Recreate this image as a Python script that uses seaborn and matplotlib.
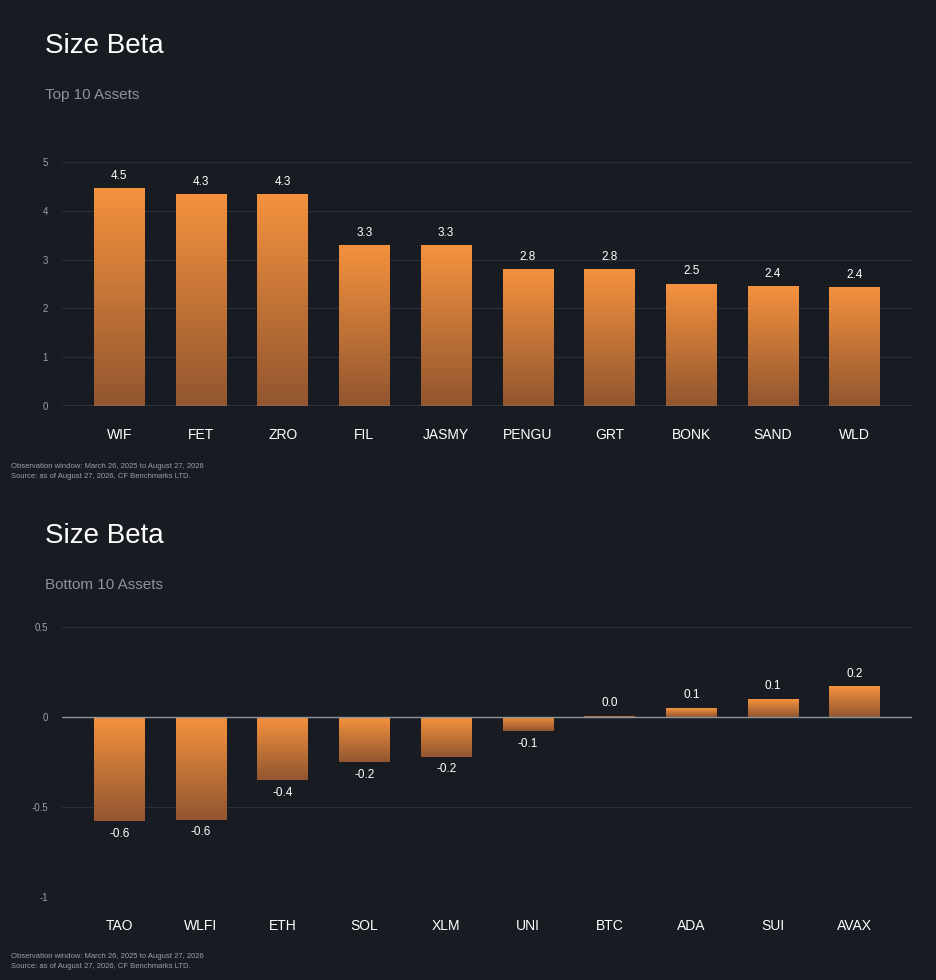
import matplotlib
matplotlib.use("Agg")
import matplotlib.pyplot as plt
import numpy as np
import seaborn as sns

top_assets = ["WIF", "FET", "ZRO", "FIL", "JASMY", "PENGU", "GRT", "BONK", "SAND", "WLD"]
top_values = [4.46, 4.35, 4.35, 3.30, 3.29, 2.81, 2.80, 2.51, 2.45, 2.44]
top_labels = ["4.5", "4.3", "4.3", "3.3", "3.3", "2.8", "2.8", "2.5", "2.4", "2.4"]

bottom_assets = ["TAO", "WLFI", "ETH", "SOL", "XLM", "UNI", "BTC", "ADA", "SUI", "AVAX"]
bottom_values = [-0.58, -0.57, -0.35, -0.25, -0.22, -0.08, 0.005, 0.05, 0.10, 0.17]
bottom_labels = ["-0.6", "-0.6", "-0.4", "-0.2", "-0.2", "-0.1", "0.0", "0.1", "0.1", "0.2"]

BG = "#181c22"
sns.set_theme(style="dark")
plt.rcParams["font.family"] = ["Liberation Sans", "DejaVu Sans"]

W, H = 936, 980
fig = plt.figure(figsize=(W / 100, H / 100), dpi=100, facecolor=BG)

grad = np.linspace(0, 1, 256).reshape(-1, 1)
cmap = matplotlib.colors.LinearSegmentedColormap.from_list("o", ["#f5923e", "#925630"])


def panel(top_px, bottom_px, assets, values, labels, ylim, yticks, yticklabels, subtitle, title_y):
    ax = fig.add_axes([62 / W, 1 - bottom_px / H, 850 / W, (bottom_px - top_px) / H])
    ax.set_facecolor(BG)
    sns.barplot(x=assets, y=values, ax=ax, width=0.62, color="#f5923e", saturation=1)
    ax.set_ylim(*ylim)
    span = ylim[1] - ylim[0]
    for p, v, lab in zip(ax.patches, values, labels):
        x0, w = p.get_x(), p.get_width()
        y0, y1 = sorted([0, v])
        if y1 - y0 > 0.002:
            im = ax.imshow(grad, cmap=cmap, aspect="auto", extent=[x0, x0 + w, y0, y1], zorder=3)
            im.set_clip_path(p)
        p.set_alpha(0 if y1 - y0 > 0.002 else 1)
        off = span * 0.025
        if v >= 0:
            ax.text(x0 + w / 2, v + off, lab, ha="center", va="bottom", color="white", fontsize=8.5)
        else:
            ax.text(x0 + w / 2, v - off, lab, ha="center", va="top", color="white", fontsize=8.5)
    ax.set_xlim(-0.7, 9.7)
    ax.set_yticks(yticks)
    ax.set_yticklabels(yticklabels, color="#9aa0a8", fontsize=7)
    ax.tick_params(axis="x", colors="white", labelsize=10, length=0, pad=16)
    ax.tick_params(axis="y", length=0, pad=10)
    for y in yticks:
        ax.axhline(y, color="#2a3038", lw=0.8, zorder=0)
    ax.axhline(0, color="#8c939c", lw=1, zorder=4)
    for s in ax.spines.values():
        s.set_visible(False)
    ax.set_xlabel("")
    fig.text(45 / W, 1 - title_y / H, "Size Beta", color="white", fontsize=20, va="center")
    fig.text(45 / W, 1 - (title_y + 49) / H, subtitle, color="#8c939c", fontsize=11, va="center")
    return ax


panel(162, 406, top_assets, top_values, top_labels, (0, 5), [0, 1, 2, 3, 4, 5],
      ["0", "1", "2", "3", "4", "5"], "Top 10 Assets", 46)
panel(627, 897, bottom_assets, bottom_values, bottom_labels, (-1, 0.5), [-1, -0.5, 0, 0.5],
      ["-1", "-0.5", "0", "0.5"], "Bottom 10 Assets", 536)

for y in (466, 956):
    fig.text(11 / W, 1 - y / H, "Observation window: March 26, 2025 to August 27, 2026",
             color="#9aa0a8", fontsize=5.5, va="center")
    fig.text(11 / W, 1 - (y + 10) / H, "Source: as of August 27, 2026, CF Benchmarks LTD.",
             color="#9aa0a8", fontsize=5.5, va="center")

fig.savefig("out.png", dpi=100, facecolor=BG)
